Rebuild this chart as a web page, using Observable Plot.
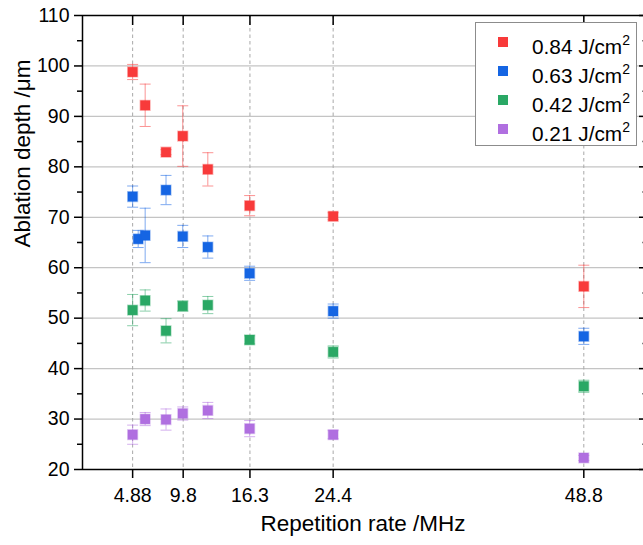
<!DOCTYPE html>
<html>
<head>
<meta charset="utf-8">
<script src="https://cdn.jsdelivr.net/npm/d3@7"></script>
<script src="https://cdn.jsdelivr.net/npm/@observablehq/plot@0.6"></script>
<style>
  html, body { margin: 0; padding: 0; background: #fff; }
  #wrap { position: relative; width: 643px; height: 545px; font-family: "Liberation Sans", Arial, sans-serif; }
  #legend { position: absolute; left: 475px; top: 22px; width: 162px; height: 124px; border: 1px solid #8c8c8c; background: #fff; box-sizing: border-box; }
  .item { position: absolute; left: 0; height: 29px; width: 100%; font-size: 20.8px; color: #000; }
  .sw { position: absolute; left: 22px; top: 10px; width: 10px; height: 10px; }
  .lb { position: absolute; left: 56px; top: 2px; white-space: nowrap; line-height: 24px; }
  .lb sup { font-size: 14px; position: relative; top: -1px; }
</style>
</head>
<body>
<div id="wrap"><div id="legend"></div></div>
<script>
// ---- data ----
const seriesNames = ["0.84", "0.63", "0.42", "0.21"];
const seriesColors = ["#f83a3a", "#1565e3", "#2aa865", "#b06fe0"];

const xRed = [4.88, 6.1, 8.13, 9.76, 12.2, 16.27, 24.4, 48.8];
const yRed = [98.8, 92.2, 82.9, 86.1, 79.5, 72.3, 70.2, 56.3];
const eRed = [1.5, 4.2, 0.5, 6.0, 3.3, 2.0, 0.7, 4.2];

const xBlue = [4.88, 5.42, 6.1, 8.13, 9.76, 12.2, 16.27, 24.4, 48.8];
const yBlue = [74.1, 65.7, 66.4, 75.4, 66.2, 64.1, 58.9, 51.4, 46.4];
const eBlue = [2.1, 1.7, 5.4, 2.9, 2.2, 2.2, 1.4, 1.4, 1.6];

const xGreen = [4.88, 6.1, 8.13, 9.76, 12.2, 16.27, 24.4, 48.8];
const yGreen = [51.6, 53.5, 47.5, 52.4, 52.6, 45.7, 43.3, 36.5];
const eGreen = [3.1, 2.1, 2.4, 1.0, 1.7, 0.8, 1.2, 1.2];

const xPurple = [4.88, 6.1, 8.13, 9.76, 12.2, 16.27, 24.4, 48.8];
const yPurple = [26.9, 30.0, 29.9, 31.1, 31.7, 28.1, 26.9, 22.3];
const ePurple = [1.9, 1.3, 2.1, 1.3, 1.6, 1.6, 0.8, 0.5];

const xTicks = [4.88, 9.8, 16.3, 24.4, 48.8];
const xTickLabels = ["4.88", "9.8", "16.3", "24.4", "48.8"];
const yMajor = [20, 30, 40, 50, 60, 70, 80, 90, 100, 110];
const yMinor = [25, 35, 45, 55, 65, 75, 85, 95, 105];
const yGrid = [30, 40, 50, 60, 70, 80, 90, 100];

// ---- build table ----
const xs = [xRed, xBlue, xGreen, xPurple];
const ys = [yRed, yBlue, yGreen, yPurple];
const es = [eRed, eBlue, eGreen, ePurple];
const data = [];
seriesNames.forEach((s, k) => {
  xs[k].forEach((x, i) => data.push({series: s, x, y: ys[k][i], e: es[k][i]}));
});

const capSymbol = {
  draw(ctx, size) { const w = Math.sqrt(size); ctx.moveTo(-w / 2, 0); ctx.lineTo(w / 2, 0); }
};

const color = {domain: seriesNames, range: seriesColors};
const font = "'Liberation Sans', Arial, sans-serif";

const marks = [
  Plot.gridY(yGrid, {stroke: "#c4c4c4", strokeOpacity: 1, strokeWidth: 1.3}),
  Plot.gridX(xTicks, {stroke: "#a8a8a8", strokeOpacity: 1, strokeDasharray: "3.5,3", strokeWidth: 1}),
];
[...seriesNames].reverse().forEach(s => {
  const d = data.filter(r => r.series === s);
  marks.push(
    Plot.ruleX(d, {x: "x", y1: r => r.y - r.e, y2: r => r.y + r.e, stroke: "series", strokeOpacity: 0.55, strokeWidth: 1}),
    Plot.dot(d, {x: "x", y: r => r.y + r.e, symbol: capSymbol, r: 6.2, stroke: "series", strokeOpacity: 0.55, strokeWidth: 1, fill: "none"}),
    Plot.dot(d, {x: "x", y: r => r.y - r.e, symbol: capSymbol, r: 6.2, stroke: "series", strokeOpacity: 0.55, strokeWidth: 1, fill: "none"}),
    Plot.dot(d, {x: "x", y: "y", symbol: "square", r: 5.5, fill: "series", fillOpacity: 1, stroke: "series", strokeOpacity: 0.35, strokeWidth: 1.5})
  );
});
marks.push(
  Plot.ruleY([110], {stroke: "#000", strokeWidth: 1.5}),
  Plot.ruleY([20], {stroke: "#000", strokeWidth: 1.5}),
  Plot.ruleX([0], {stroke: "#000", strokeWidth: 1.5}),
  Plot.axisY({ticks: yMajor, tickSize: 8, tickPadding: 5, tickFormat: d => String(d), label: null, strokeWidth: 1.5}),
  Plot.axisY({ticks: yMinor, tickSize: 5, tickFormat: () => "", label: null, strokeWidth: 1.5}),
  Plot.axisY({anchor: "right", ticks: yMajor, tickSize: -5, tickFormat: () => "", label: null, strokeWidth: 1.5}),
  Plot.axisY({anchor: "right", ticks: yMinor, tickSize: -1.5, tickFormat: () => "", label: null, strokeWidth: 1.5}),
  Plot.axisX({ticks: xTicks, tickSize: 9, tickPadding: 10, tickFormat: d => xTickLabels[xTicks.indexOf(d)], label: null, strokeWidth: 1.5}),
  Plot.axisX({anchor: "top", ticks: xTicks, tickSize: -9, tickFormat: () => "", label: null, strokeWidth: 1.5}),
  Plot.text(["Ablation depth /μm"], {frameAnchor: "left", dx: -60, dy: 5, rotate: -90, fontSize: 22.5, fill: "#000"}),
  Plot.text(["Repetition rate /MHz"], {frameAnchor: "bottom", dy: 61, fontSize: 22.5, fill: "#000"})
);

const chart = Plot.plot({
  width: 643,
  height: 545,
  marginLeft: 82,
  marginRight: 0,
  marginTop: 15,
  marginBottom: 76,
  style: {fontFamily: font, fontSize: "19.5px", color: "#000", background: "#fff", overflow: "hidden"},
  x: {domain: [0, 55], range: [82, 647]},
  y: {domain: [20, 110], range: [469, 15]},
  color,
  marks
});
document.getElementById("wrap").prepend(chart);

const legend = document.getElementById("legend");
seriesNames.forEach((s, i) => {
  const it = document.createElement("div");
  it.className = "item";
  it.style.top = (4 + i * 29) + "px";
  it.innerHTML = `<span class="sw" style="background:${seriesColors[i]}"></span><span class="lb">${s} J/cm<sup>2</sup></span>`;
  legend.appendChild(it);
});
</script>
</body>
</html>
